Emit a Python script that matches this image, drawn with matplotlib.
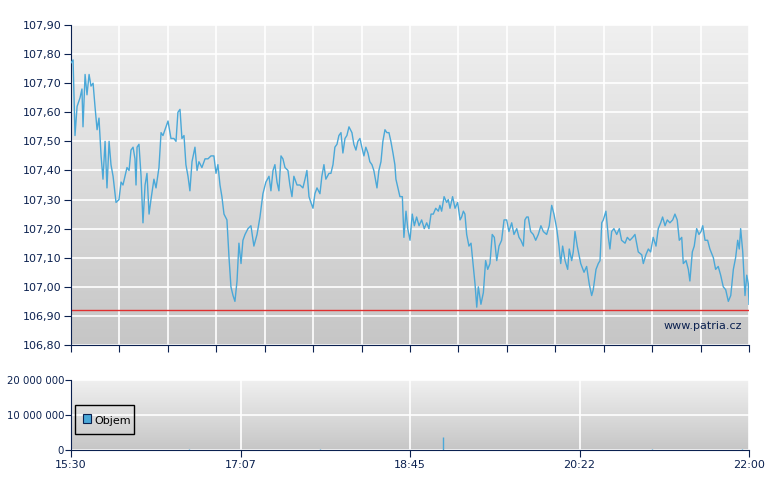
import matplotlib
matplotlib.use("Agg")
import matplotlib.pyplot as plt
import numpy as np
from matplotlib.patches import Rectangle

minutes = [0,1.2,2.3,3.5,5.2,6.3,6.9,8.1,9.2,10.4,11.5,12.7,13.8,15.0,16.1,17.3,18.4,19.6,20.7,21.9,23.0,24.2,25.9,27.6,28.8,29.9,32.2,33.4,34.5,35.7,36.8,37.4,38.0,39.1,40.3,41.4,42.6,43.7,44.9,46.0,47.7,48.9,50.6,51.8,52.9,54.6,55.8,57.5,59.2,60.4,61.5,62.7,63.8,65.0,66.1,67.3,68.4,69.6,71.3,72.5,73.6,75.3,77.1,78.8,80.5,82.2,83.4,84.5,85.7,86.8,88.0,89.7,90.9,92.0,93.2,94.3,95.5,96.6,97.8,98.9,100.1,101.8,103.5,105.2,107.0,108.7,110.4,112.1,113.9,115.0,116.2,117.3,118.5,119.6,120.8,121.9,123.1,124.8,125.9,127.1,128.2,130.0,131.7,133.4,134.6,135.7,136.9,138.0,139.2,140.3,141.5,143.2,144.3,145.5,146.6,148.4,149.5,150.7,151.8,153.0,154.1,155.3,156.4,157.6,158.7,159.9,161.6,162.7,163.9,165.0,166.2,167.3,168.5,169.6,170.8,171.9,173.1,174.2,176.0,177.1,178.3,179.4,180.6,181.7,182.9,184.0,185.2,186.3,186.9,
    189.2,190.6,191.5,192.7,193.7,195.0,196.3,197.5,198.8,200.2,201.7,203.2,204.6,205.9,207.1,208.4,209.8,211.3,212.2,213.2,214.6,216.1,217.0,218.0,219.5,220.9,222.4,223.8,224.7,225.7,226.6,227.6,228.9,230.1,231.4,232.4,233.4,234.3,235.8,237.2,238.5,239.7,241.0,242.3,243.5,244.9,246.2,247.7,249.1,250.6,251.9,253.5,254.8,256.4,257.7,258.8,260.2,261.1,262.1,263.0,264.4,265.9,267.3,268.8,270.3,271.7,273.6,275.1,276.5,277.8,279.4,280.7,281.7,282.8,284.2,285.7,286.6,288.0,288.9,289.9,291.2,293.2,295.1,296.6,298.1,299.5,300.4,302.0,303.3,304.3,305.3,306.2,307.7,309.1,310.0,311.0,312.3,313.9,315.4,316.7,318.7,320.0,321.5,323.1,324.4,326.3,328.3,329.2,330.7,332.1,333.4,334.9,336.5,337.8,339.2,340.3,341.7,343.0,344.5,346.1,347.4,348.7,349.9,351.3,352.2,353.8,355.1,356.0,357.4,358.5,359.9,361.2,362.4,363.4,364.7,366.2,367.5,369.5,370.8,372.3,373.7,375.2,376.6,378.1,379.5,381.0,382.3,383.5,384.4,385.2,386.4,387.7,388.7,389.6,390]
price = [107.77,107.78,107.52,107.62,107.65,107.68,107.55,107.73,107.66,107.73,107.69,107.70,107.62,107.54,107.58,107.45,107.37,107.50,107.34,107.50,107.42,107.38,107.29,107.30,107.36,107.35,107.41,107.40,107.47,107.48,107.44,107.35,107.48,107.49,107.38,107.22,107.35,107.39,107.25,107.30,107.37,107.34,107.41,107.53,107.52,107.55,107.57,107.51,107.51,107.50,107.60,107.61,107.51,107.52,107.42,107.38,107.33,107.43,107.48,107.40,107.43,107.41,107.44,107.44,107.45,107.45,107.39,107.42,107.35,107.31,107.25,107.23,107.10,107.00,106.97,106.95,107.02,107.15,107.08,107.16,107.18,107.20,107.21,107.14,107.18,107.24,107.32,107.36,107.38,107.33,107.40,107.42,107.36,107.33,107.45,107.44,107.41,107.40,107.35,107.31,107.38,107.35,107.35,107.34,107.37,107.40,107.31,107.29,107.27,107.32,107.34,107.32,107.38,107.42,107.37,107.39,107.39,107.42,107.48,107.49,107.52,107.53,107.46,107.51,107.52,107.55,107.53,107.49,107.47,107.50,107.51,107.48,107.45,107.48,107.46,107.43,107.42,107.40,107.34,107.40,107.43,107.50,107.54,107.53,107.53,107.50,107.46,107.42,107.37,
    107.31,107.31,107.17,107.26,107.20,107.16,107.25,107.21,107.24,107.21,107.23,107.20,107.22,107.20,107.25,107.25,107.27,107.26,107.28,107.26,107.31,107.29,107.30,107.27,107.31,107.27,107.29,107.23,107.24,107.26,107.25,107.18,107.14,107.15,107.07,107.01,106.93,107.00,106.94,106.98,107.09,107.06,107.08,107.18,107.17,107.09,107.14,107.16,107.23,107.23,107.19,107.22,107.18,107.20,107.17,107.16,107.14,107.23,107.24,107.24,107.19,107.18,107.16,107.18,107.21,107.19,107.18,107.21,107.28,107.25,107.20,107.14,107.08,107.14,107.09,107.06,107.13,107.09,107.12,107.19,107.14,107.08,107.05,107.07,107.01,106.97,106.99,107.06,107.08,107.09,107.22,107.23,107.26,107.17,107.13,107.19,107.20,107.18,107.20,107.16,107.15,107.17,107.16,107.17,107.18,107.12,107.11,107.08,107.11,107.13,107.12,107.17,107.14,107.20,107.22,107.24,107.21,107.23,107.22,107.23,107.25,107.23,107.16,107.17,107.08,107.09,107.06,107.02,107.12,107.14,107.20,107.18,107.19,107.21,107.16,107.16,107.13,107.10,107.06,107.07,107.04,107.00,106.99,106.95,106.97,107.06,107.10,107.16,107.13,107.20,107.12,106.97,107.04,107.01,106.94]
ref_price = 106.92
vol_min = [68, 128, 143, 146, 214, 277, 285, 329, 334, 346, 347, 364, 386]
vol = [150000, 120000, 150000, 100000, 3700000, 120000, 100000, 130000, 150000, 130000, 100000, 120000, 150000]
y_ticks = [106.8 + 0.1*i for i in range(12)]
vol_ticks = [0, 10000000, 20000000]
time_labels = ["15:30", "17:07", "18:45", "20:22", "22:00"]

navy = "#0b2150"
line_c = "#4aa8d8"
fig = plt.figure(figsize=(7.8, 4.9), dpi=100)
ax = fig.add_axes([71/780, 145/490, 678/780, 320/490])
av = fig.add_axes([71/780, 40/490, 678/780, 70/490])

def bg(a):
    grad = np.linspace(0, 1, 256).reshape(-1, 1)
    a.imshow(grad, cmap=matplotlib.colors.LinearSegmentedColormap.from_list("g", ["#f0f0f0", "#c6c6c6"]),
             aspect="auto", extent=[0, 1, 0, 1], transform=a.transAxes, zorder=0)
    for s in ["top", "right"]:
        a.spines[s].set_visible(False)
    for s in ["left", "bottom"]:
        a.spines[s].set_color(navy)
    a.tick_params(colors=navy, labelsize=8, length=5, direction="out", pad=2)
    a.grid(True, color="white", lw=1.2, zorder=1)

bg(ax)
ax.plot(minutes, price, color=line_c, lw=1, zorder=3)
ax.axhline(ref_price, color="#e03030", lw=1, zorder=2)
ax.set_xlim(0, 390)
ax.set_ylim(106.8, 107.9)
ax.set_yticks(y_ticks)
ax.set_yticklabels([f"{v:.2f}".replace(".", ",") for v in y_ticks])
ax.set_xticks(np.linspace(0, 390, 15))
ax.set_xticklabels([])
ax.text(0.99, 0.06, "www.patria.cz", transform=ax.transAxes, ha="right", va="center", color=navy, fontsize=8, zorder=4)

bg(av)
av.vlines(vol_min, 0, vol, color=line_c, lw=1, zorder=3)
av.set_xlim(0, 390)
av.set_ylim(0, 20000000)
av.set_yticks(vol_ticks)
av.set_yticklabels(["0", "10 000 000", "20 000 000"], fontsize=7.3)
av.tick_params(axis="y", pad=1, length=4)
av.set_xticks(np.linspace(0, 390, 5))
av.set_xticklabels(time_labels)
av.add_patch(Rectangle((0.006, 0.23), 0.087, 0.42, transform=av.transAxes, fill=False, ec="black", lw=1, zorder=4))
av.add_patch(Rectangle((0.018, 0.39), 0.012, 0.12, transform=av.transAxes, fc=line_c, ec=navy, lw=0.8, zorder=4))
av.text(0.035, 0.42, "Objem", transform=av.transAxes, fontsize=8, va="center", zorder=4)
fig.savefig("out.png", dpi=100)
